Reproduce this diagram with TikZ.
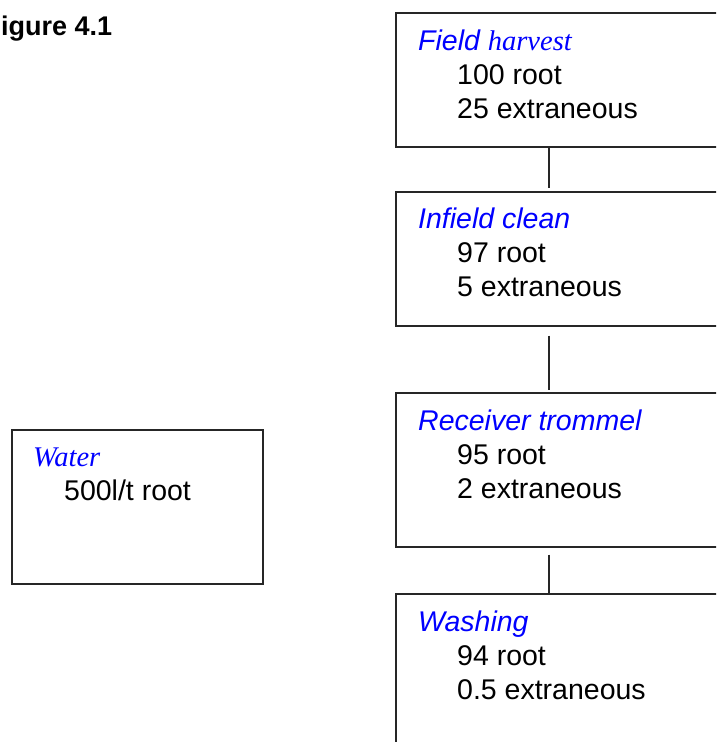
\documentclass[tikz,border=0pt]{standalone}
\usepackage{fontspec}
\setmainfont{Liberation Sans}
\newfontfamily\serifit{Liberation Serif}[ItalicFont=* Italic]
\begin{document}
\begin{tikzpicture}[x=1pt,y=-1pt,
  procbox/.style={draw=black!85, line width=1.6pt, anchor=north west, inner sep=0pt},
  link/.style={draw=black!85, line width=1.6pt},
  head/.style={anchor=base west, inner sep=0pt, text=blue, font=\fontsize{28.5}{34}\selectfont\itshape},
  body/.style={anchor=base west, inner sep=0pt, font=\fontsize{28.5}{34}\selectfont},
  title/.style={anchor=base west, inner sep=0pt, font=\fontsize{27}{32}\selectfont\bfseries}]
\useasboundingbox (0,0) rectangle (716,742);
\clip (0,0) rectangle (716,742);

% figure caption
\node[title] (cap) at (-15.5,35) {Figure 4.1};

% process boxes (right edges run past the page)
\node[procbox, minimum width=340pt, minimum height=134pt] (field) at (395,12) {};
\node[procbox, minimum width=340pt, minimum height=134pt] (infield) at (395,191) {};
\node[procbox, minimum width=340pt, minimum height=154pt] (trommel) at (395,392) {};
\node[procbox, minimum width=340pt, minimum height=170pt] (washing) at (395,593) {};
\node[procbox, minimum width=251pt, minimum height=154pt] (water) at (11,429) {};

% box texts
\node[head] (fieldh) at (418,50) {Field\ {\serifit\itshape harvest}};
\node[body] (field1) at (457,84) {100 root};
\node[body] (field2) at (457,118) {25 extraneous};

\node[head] (infieldh) at (418,228) {Infield clean};
\node[body] (infield1) at (457,262) {97 root};
\node[body] (infield2) at (457,296) {5 extraneous};

\node[head] (trommelh) at (418,430) {Receiver trommel};
\node[body] (trommel1) at (457,464) {95 root};
\node[body] (trommel2) at (457,498) {2 extraneous};

\node[head] (washingh) at (418,631) {Washing};
\node[body] (washing1) at (457,665) {94 root};
\node[body] (washing2) at (457,699) {0.5 extraneous};

\node[head, font=\fontsize{28.5}{34}\selectfont\serifit\itshape] (waterh) at (33,466) {Water};
\node[body] (water1) at (64,500) {500l/t root};

% connectors between the process stages
\coordinate (cx) at (549,0);
\draw[link, shorten >=3pt] (field.south -| cx) -- (infield.north -| cx);
\draw[link, shorten <=9pt, shorten >=2pt] (infield.south -| cx) -- (trommel.north -| cx);
\draw[link, shorten <=7pt] (trommel.south -| cx) -- (washing.north -| cx);
\end{tikzpicture}
\end{document}
